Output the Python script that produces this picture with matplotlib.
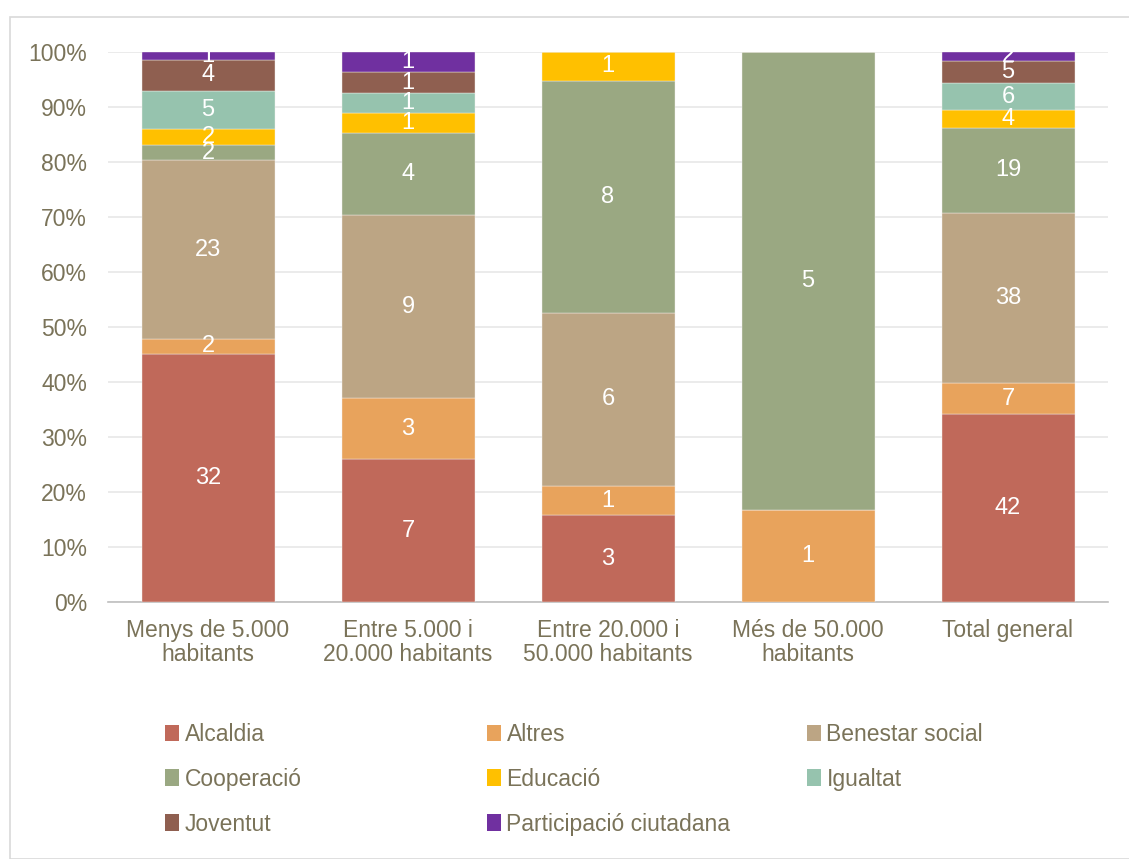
import matplotlib
matplotlib.use("Agg")
import matplotlib.pyplot as plt
import numpy as np
from matplotlib.patches import Rectangle, Patch
from matplotlib.ticker import PercentFormatter

plt.rcParams["font.family"] = ["Liberation Sans", "DejaVu Sans"]

categories = ["Menys de 5.000\nhabitants", "Entre 5.000 i\n20.000 habitants",
              "Entre 20.000 i\n50.000 habitants", "Més de 50.000\nhabitants",
              "Total general"]
series = ["Alcaldia", "Altres", "Benestar social", "Cooperació", "Educació",
          "Igualtat", "Joventut", "Participació ciutadana"]
counts = {
    "Alcaldia":               [32, 7, 3, 0, 42],
    "Altres":                 [2, 3, 1, 1, 7],
    "Benestar social":        [23, 9, 6, 0, 38],
    "Cooperació":             [2, 4, 8, 5, 19],
    "Educació":               [2, 1, 1, 0, 4],
    "Igualtat":               [5, 1, 0, 0, 6],
    "Joventut":               [4, 1, 0, 0, 5],
    "Participació ciutadana": [1, 1, 0, 0, 2],
}
colors = ["#c0695a", "#e8a35c", "#bca584", "#9aa882", "#ffc000",
          "#96c3ae", "#8f5f50", "#7030a0"]

TXT = "#7a7359"
FS = 16.5

data = np.array([counts[s] for s in series], dtype=float)
totals = data.sum(axis=0)
pct = data / totals

fig = plt.figure(figsize=(11.29, 8.59), dpi=100)
fig.patches.append(Rectangle((10 / 1129, 0), 1.2, 1 - 17 / 859, transform=fig.transFigure,
                             fill=False, edgecolor="#d9d9d9", linewidth=1.2))
ax = fig.add_axes([108 / 1129, 1 - 602 / 859, 1000 / 1129, (602 - 52) / 859])

x = np.arange(len(categories))
bottom = np.zeros(len(categories))
for i, s in enumerate(series):
    ax.bar(x, pct[i], 0.665, bottom=bottom, color=colors[i],
           edgecolor="#f4f0ec", linewidth=0.3, zorder=3)
    for j in range(len(categories)):
        if data[i, j] > 0:
            ax.text(x[j], bottom[j] + pct[i, j] / 2, f"{int(data[i, j])}",
                    ha="center", va="center", color="white", fontsize=17, zorder=4)
    bottom += pct[i]

ax.set_xlim(-0.5, len(categories) - 0.5)
ax.set_ylim(0, 1)
ax.set_yticks(np.arange(0, 1.01, 0.1))
ax.yaxis.set_major_formatter(PercentFormatter(1.0, decimals=0))
ax.set_xticks(x)
ax.set_xticklabels(categories, linespacing=1.05)
ax.tick_params(axis="both", length=0, labelsize=FS, labelcolor=TXT)
ax.tick_params(axis="y", pad=15)
ax.tick_params(axis="x", pad=12)
ax.grid(axis="y", color="#e8e8e8", linewidth=1.2, zorder=0)
for side in ["top", "right", "left"]:
    ax.spines[side].set_visible(False)
ax.spines["bottom"].set_color("#bfbfbf")
ax.spines["bottom"].set_linewidth(1.2)

# legend: three columns filled row by row, like the original
col_x = [165, 487, 807]
for c in range(3):
    idx = list(range(c, len(series), 3))
    handles = [Patch(facecolor=colors[k], edgecolor="none") for k in idx]
    leg = fig.legend(handles, [series[k] for k in idx], loc="upper left",
                     bbox_to_anchor=(col_x[c] / 1129, 1 - 723 / 859),
                     frameon=False, fontsize=FS, handlelength=0.6, handleheight=0.75,
                     handletextpad=0.25, labelspacing=0.95, borderaxespad=0, borderpad=0)
    for t in leg.get_texts():
        t.set_color(TXT)

fig.savefig("out.png", dpi=100)
